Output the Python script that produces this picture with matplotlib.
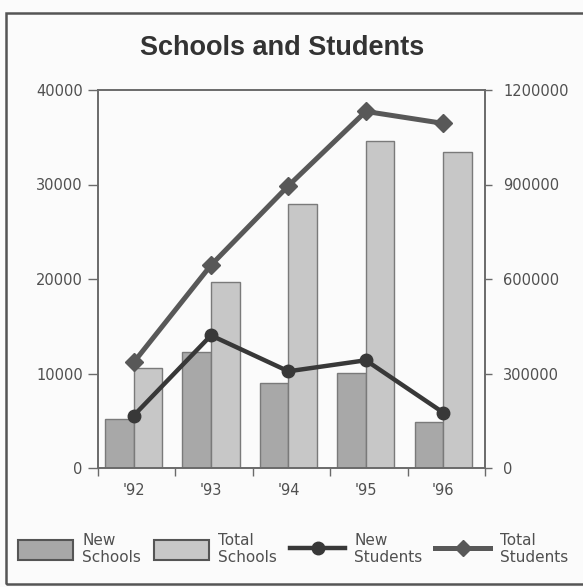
import matplotlib.pyplot as plt
import matplotlib.patches as mpatches
from matplotlib.lines import Line2D
import numpy as np

plt.rcParams['font.family'] = ['DejaVu Sans']

years = ["'92", "'93", "'94", "'95", "'96"]
new_schools = [5200, 12250, 9000, 10050, 4900]
total_schools = [10550, 19700, 27900, 34600, 33400]
new_students = [166000, 421000, 307000, 342000, 176000]
total_students = [335000, 644000, 896000, 1132000, 1094000]

c_new_bar = '#a8a8a8'
c_tot_bar = '#c7c7c7'
c_edge = '#7a7a7a'
c_new_line = '#383838'
c_tot_line = '#585858'
c_axis = '#6a6a6a'
c_text = '#505050'

fig = plt.figure(figsize=(5.83, 5.87), dpi=100)
fig.patch.set_facecolor('#fbfbfb')

# frame around the whole chart
fig.add_artist(mpatches.Rectangle((6 / 583, 3 / 587), 600 / 583, 571 / 587,
                                  transform=fig.transFigure, fill=False,
                                  edgecolor='#555555', linewidth=1.8))

ax = fig.add_axes([98 / 583, 1 - 468 / 587, 387 / 583, 378 / 587])
ax.set_facecolor('#fbfbfb')
x = np.arange(len(years)) - 0.04
w = 0.37
ax.bar(x - w / 2, new_schools, w, color=c_new_bar, edgecolor=c_edge, linewidth=1)
ax.bar(x + w / 2, total_schools, w, color=c_tot_bar, edgecolor=c_edge, linewidth=1)
ax.set_xlim(-0.5, 4.5)
ax.set_ylim(0, 40000)
ax.set_yticks(np.arange(0, 40001, 10000))
ax.set_yticklabels([str(v) for v in range(0, 40001, 10000)])
ax.set_xticks(x)
ax.set_xticklabels(years)
ax.set_xticks(np.arange(-0.5, 5, 1), minor=True)
ax.tick_params(axis='x', which='major', length=0, pad=11, labelsize=10.5, labelcolor=c_text)
ax.tick_params(axis='x', which='minor', length=6, width=1, color=c_axis, direction='out')
ax.tick_params(axis='y', length=7, width=1, color=c_axis, labelsize=10.5, labelcolor=c_text, pad=4)
for s in ax.spines.values():
    s.set_color(c_axis)
    s.set_linewidth(1.2)

ax2 = ax.twinx()
ax2.plot(x, total_students, color=c_tot_line, lw=3.6, marker='D', ms=9,
         solid_capstyle='round')
ax2.plot(x, new_students, color=c_new_line, lw=3.2, marker='o', ms=9,
         solid_capstyle='round')
ax2.set_ylim(0, 1200000)
ax2.set_yticks(np.arange(0, 1200001, 300000))
ax2.set_yticklabels([str(v) for v in range(0, 1200001, 300000)])
ax2.tick_params(axis='y', length=5, width=1, color=c_axis, labelsize=10.5, labelcolor=c_text, pad=8)
for s in ax2.spines.values():
    s.set_color(c_axis)
    s.set_linewidth(1.2)

fig.text(282 / 583, 1 - 48 / 587, 'Schools and Students', ha='center', va='center',
         fontsize=19.5, fontweight='bold', color='#333333', family='Liberation Sans')

handles = [
    mpatches.Patch(facecolor=c_new_bar, edgecolor='#555555', linewidth=1.5),
    mpatches.Patch(facecolor=c_tot_bar, edgecolor='#555555', linewidth=1.5),
    Line2D([], [], color=c_new_line, lw=3.2, marker='o', ms=9),
    Line2D([], [], color=c_tot_line, lw=3.6, marker='D', ms=8),
]
labels = ['New\nSchools', 'Total\nSchools', 'New\nStudents', 'Total\nStudents']
leg = fig.legend(handles, labels, loc='center left', bbox_to_anchor=(18 / 583, 1 - 549 / 587),
                 ncol=4, frameon=False, fontsize=11, handlelength=3.6, handleheight=1.6,
                 columnspacing=0.85, handletextpad=0.6, labelspacing=0.2, borderpad=0,
                 borderaxespad=0)
for t in leg.get_texts():
    t.set_color(c_text)

plt.savefig('out.png', dpi=100, facecolor=fig.get_facecolor())
